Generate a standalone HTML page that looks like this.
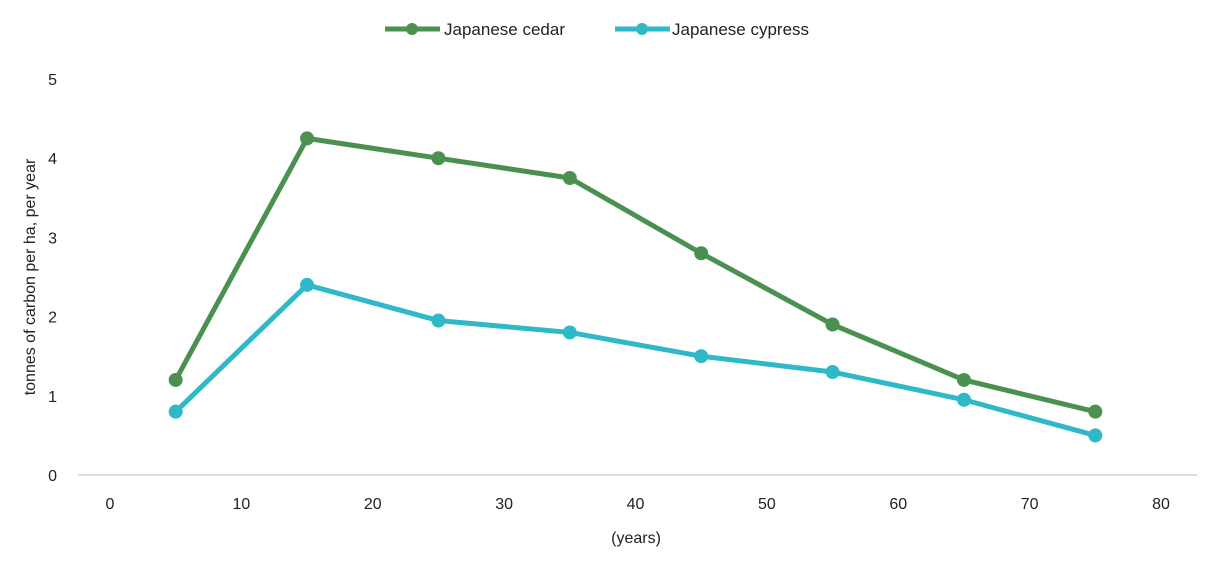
<!DOCTYPE html>
<html><head><meta charset="utf-8"><style>
body{margin:0;background:#fff;font-family:"Liberation Sans",sans-serif}
svg text{font-family:"Liberation Sans",sans-serif;fill:#222}
</style></head><body>
<svg id="chart" width="1213" height="563" viewBox="0 0 1213 563" xmlns="http://www.w3.org/2000/svg">
<g id="legend">
<g>
<line x1="385" y1="29" x2="440" y2="29" stroke="#4a9150" stroke-width="5"/><circle cx="412" cy="29" r="6" fill="#4a9150"/>
<text x="444" y="35" font-size="17">Japanese cedar</text></g>
<g>
<line x1="615" y1="29" x2="670" y2="29" stroke="#2fb8c8" stroke-width="5"/><circle cx="642" cy="29" r="6" fill="#2fb8c8"/>
<text x="672" y="35" font-size="17">Japanese cypress</text></g>
</g>
<line x1="78" y1="475" x2="1197" y2="475" stroke="#d0d0d0" stroke-width="1.5"/>
<g id="xt"></g>
<g id="yt"></g>
<text transform="translate(35,277) rotate(-90)" text-anchor="middle" font-size="16">tonnes of carbon per ha, per year</text>
<text x="636" y="543" text-anchor="middle" font-size="16">(years)</text>
<g id="series"></g>
</svg>
<script>
const years=[5,15,25,35,45,55,65,75];
const cedar=[1.2,4.25,4.0,3.75,2.8,1.9,1.2,0.8];
const cypress=[0.8,2.4,1.95,1.8,1.5,1.3,0.95,0.5];
const xTicks=[0,10,20,30,40,50,60,70,80];
const yTicks=[0,1,2,3,4,5];
const NS="http://www.w3.org/2000/svg";
const xS=v=>110+v*(1161-110)/80;
const yS=v=>475-v*(475-79)/5;
const xt=document.getElementById('xt'),yt=document.getElementById('yt'),sg=document.getElementById('series');
xTicks.forEach(t=>{const e=document.createElementNS(NS,'text');


e.setAttribute('x',xS(t));e.setAttribute('y',509);e.setAttribute('text-anchor','middle');e.setAttribute('font-size','16');e.textContent=t;xt.appendChild(e);});
yTicks.forEach(t=>{const e=document.createElementNS(NS,'text');


e.setAttribute('x',57);e.setAttribute('y',yS(t)+6);e.setAttribute('text-anchor','end');e.setAttribute('font-size','16');e.textContent=t;yt.appendChild(e);});
function draw(vals,color,name){
const g=document.createElementNS(NS,'g');


const p=document.createElementNS(NS,'polyline');


p.setAttribute('points',vals.map((v,i)=>xS(years[i])+','+yS(v)).join(' '));
p.setAttribute('fill','none');p.setAttribute('stroke',color);p.setAttribute('stroke-width','5');p.setAttribute('stroke-linejoin','round');
g.appendChild(p);
vals.forEach((v,i)=>{const c=document.createElementNS(NS,'circle');


c.setAttribute('cx',xS(years[i]));c.setAttribute('cy',yS(v));c.setAttribute('r','7');c.setAttribute('fill',color);g.appendChild(c);});
sg.appendChild(g);}
draw(cedar,'#4a9150','cedar');
draw(cypress,'#2fb8c8','cypress');
</script>
</body></html>
